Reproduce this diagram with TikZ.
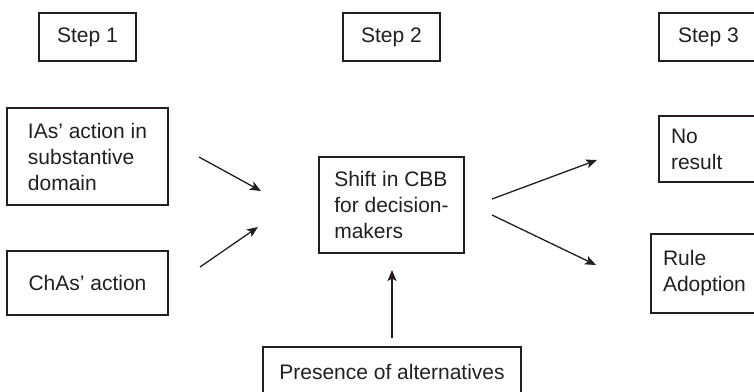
\documentclass[tikz,border=0pt]{standalone}
\usepackage{fontspec}
\setmainfont{Liberation Sans}
\usetikzlibrary{arrows.meta}
\definecolor{ink}{HTML}{231F20}
\begin{document}
\begin{tikzpicture}[x=1pt,y=-1pt,
  box/.style={draw=ink,line width=1.3pt,text=ink,font=\fontsize{21}{26}\selectfont,
    align=left,inner sep=0pt,outer sep=0pt},
  rbox/.style={box,inner xsep=12pt},
  arr/.style={draw=ink,line width=1.3pt,-{Stealth[length=11pt,width=9pt,inset=2.5pt]}}]
\useasboundingbox (0,0) rectangle (754,391);
\clip (0,0) rectangle (754,391);
% step headers
\node[box,minimum width=97pt,minimum height=48pt] (s1) at (87.5,37) {Step 1};
\node[box,minimum width=97pt,minimum height=48pt] (s2) at (391.5,37) {Step 2};
\node[box,minimum width=99pt,minimum height=48pt] (s3) at (708.5,37) {Step 3};
% step 1 boxes
\node[box,minimum width=161pt,minimum height=97pt] (ias) at (87.5,156.5) {IAs’ action in\\substantive\\domain};
\node[box,minimum width=161pt,minimum height=64pt] (chas) at (87.5,283) {ChAs’ action};
% step 2 boxes
\node[box,minimum width=145pt,minimum height=96pt] (shift) at (391.5,205) {Shift in CBB\\for decision-\\makers};
\node[box,minimum width=258pt,minimum height=50pt] (pres) at (392,372) {Presence of alternatives};
% step 3 boxes
\node[rbox,text width=75pt,minimum height=66pt] (nores) at (708.5,149) {No\\result};
\node[rbox,text width=83pt,minimum height=79pt] (rule) at (704.5,273.5) {Rule\\Adoption};
% arrow end points
\coordinate (a1s) at (199,157); \coordinate (a1e) at (261,191);
\coordinate (a2s) at (200,267); \coordinate (a2e) at (258,227);
\coordinate (a3s) at (392,338); \coordinate (a3e) at (392,270);
\coordinate (a4s) at (492,199); \coordinate (a4e) at (597,160);
\coordinate (a5s) at (492,215); \coordinate (a5e) at (596,265);
\draw[arr] (a1s) -- (a1e);
\draw[arr] (a2s) -- (a2e);
\draw[arr] (a3s) -- (a3e);
\draw[arr] (a4s) -- (a4e);
\draw[arr] (a5s) -- (a5e);
\end{tikzpicture}
\end{document}
